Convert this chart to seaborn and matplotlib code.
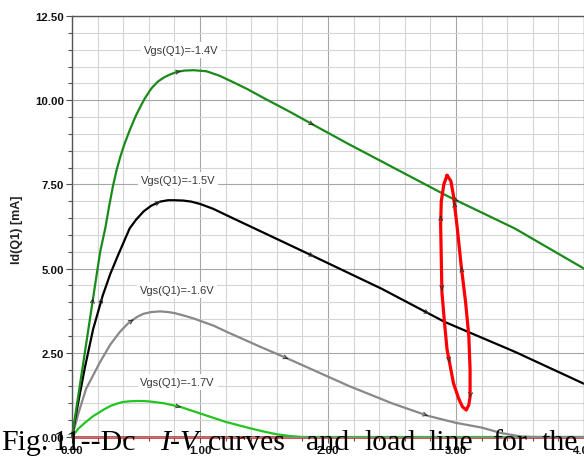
import numpy as np
import matplotlib
matplotlib.use("Agg")
import matplotlib.pyplot as plt
from matplotlib.ticker import MultipleLocator
import seaborn as sns

# Drain voltage (V) and drain current (mA) for each gate bias
v_14 = [0, 0.05, 0.10, 0.15, 0.20, 0.22, 0.26, 0.29, 0.32, 0.35, 0.38, 0.41, 0.45,
        0.50, 0.54, 0.57, 0.62, 0.67, 0.72, 0.77, 0.82, 0.88, 0.95, 1.05, 1.15, 1.24,
        1.37, 1.50, 1.70, 1.89, 2.15, 2.42, 2.94, 3.46, 4.00]
i_14 = [0, 1.25, 2.50, 3.75, 5.00, 5.50, 6.20, 6.85, 7.45, 7.95, 8.35, 8.70, 9.10,
        9.55, 9.85, 10.06, 10.35, 10.55, 10.68, 10.77, 10.84, 10.88, 10.89, 10.86,
        10.73, 10.57, 10.33, 10.06, 9.66, 9.26, 8.72, 8.18, 7.14, 6.19, 5.00]

v_15 = [0, 0.05, 0.10, 0.165, 0.24, 0.30, 0.36, 0.45, 0.50, 0.56, 0.62, 0.69, 0.75,
        0.80, 0.87, 0.93, 1.00, 1.10, 1.26, 1.45, 1.89, 2.42, 2.91, 3.46, 4.00]
i_15 = [0, 1.05, 2.05, 3.20, 4.20, 4.85, 5.40, 6.19, 6.45, 6.70, 6.87, 6.99, 7.03,
        7.03, 7.02, 6.99, 6.92, 6.78, 6.49, 6.15, 5.36, 4.40, 3.42, 2.53, 1.58]

v_16 = [0, 0.05, 0.11, 0.22, 0.30, 0.376, 0.44, 0.51, 0.56, 0.62, 0.69, 0.75, 0.80,
        0.87, 0.95, 1.11, 1.21, 1.47, 1.69, 2.16, 2.50, 2.78, 3.00, 3.20, 3.35, 3.50,
        3.60, 4.00]
i_16 = [0, 0.70, 1.43, 2.23, 2.75, 3.13, 3.38, 3.57, 3.66, 3.71, 3.73, 3.71, 3.68,
        3.61, 3.52, 3.30, 3.12, 2.68, 2.32, 1.52, 1.00, 0.63, 0.42, 0.28, 0.12, 0.02,
        0.0, 0.0]

v_17 = [0, 0.05, 0.10, 0.165, 0.20, 0.25, 0.30, 0.35, 0.40, 0.45, 0.51, 0.57, 0.62,
        0.72, 0.85, 1.00, 1.08, 1.20, 1.37, 1.50, 1.60, 1.70, 1.80, 4.00]
i_17 = [0, 0.25, 0.42, 0.62, 0.70, 0.82, 0.92, 0.99, 1.04, 1.06, 1.07, 1.065, 1.05,
        1.00, 0.89, 0.70, 0.60, 0.45, 0.28, 0.16, 0.08, 0.03, 0.0, 0.0]

# Zero-current trace
v_off = [0, 4.00]
i_off = [0, 0]

# Dynamic load line (closed loop)
loop_v = [2.93, 2.905, 2.885, 2.88, 2.885, 2.89, 2.91, 2.93, 2.95, 2.98, 3.02, 3.05,
          3.08, 3.10, 3.11, 3.11, 3.10, 3.075, 3.04, 3.01, 2.98, 2.96, 2.93]
loop_i = [7.77, 7.50, 7.00, 6.30, 5.30, 4.30, 3.40, 2.60, 2.20, 1.60, 1.15, 0.90,
          0.80, 0.95, 1.20, 2.00, 3.00, 4.00, 5.10, 6.20, 7.17, 7.60, 7.77]

curve_labels = ["Vgs(Q1)=-1.4V", "Vgs(Q1)=-1.5V", "Vgs(Q1)=-1.6V", "Vgs(Q1)=-1.7V"]
label_v = [0.85, 0.83, 0.82, 0.825]
label_i = [11.49, 7.63, 4.37, 1.63]

x_ticks = [0, 1, 2, 3, 4]
x_tick_labels = ["0.00", "1.00", "2.00", "3.00", "4.00"]
y_ticks = [0, 2.5, 5, 7.5, 10, 12.5]
y_tick_labels = ["0.00", "2.50", "5.00", "7.50", "10.00", "12.50"]

caption_words = ["Fig.", "11--Dc", "I-V", "curves", "and", "load", "line", "for", "the"]
caption_x = [1, 52, 160, 208, 306, 364, 428, 492, 542]

sns.set_theme(style="white")
plt.rcParams['font.family'] = ['Liberation Sans', 'DejaVu Sans']

W, H = 584, 460
fig = plt.figure(figsize=(W / 100, H / 100), dpi=100)
ax = fig.add_axes([72 / W, 1 - 438 / H, 512 / W, 421 / H])
ax.set_xlim(0, 4)
ax.set_ylim(0, 12.5)

# grid
ax.xaxis.set_minor_locator(MultipleLocator(0.2))
ax.yaxis.set_minor_locator(MultipleLocator(0.5))
ax.set_axisbelow(True)
ax.grid(which='minor', color='#d5d5d5', lw=0.8)
ax.grid(which='major', color='#a6a6a6', lw=0.8)

dark_green = '#1a8a1a'
light_green = '#22c422'
traces = [
    (v_off, i_off, '#ff0000', 1.8),
    (v_17, i_17, light_green, 1.6),
    (v_16, i_16, '#888888', 1.6),
    (v_15, i_15, '#000000', 1.6),
    (v_14, i_14, dark_green, 1.6),
]
for xs, ys, col, lw in traces:
    sns.lineplot(x=xs, y=ys, color=col, lw=lw, ax=ax, sort=False,
                 estimator=None, clip_on=False)
sns.lineplot(x=loop_v, y=loop_i, color='#ff0000', lw=2.3, ax=ax, sort=False,
             estimator=None)

arrow_style = dict(arrowstyle='->', color='#303030', lw=0.7, mutation_scale=7,
                   shrinkA=0, shrinkB=0)


def curve_arrow(xs, ys, at_v, dv=0.006):
    tip = (at_v, np.interp(at_v, xs, ys))
    tail = (at_v - dv, np.interp(at_v - dv, xs, ys))
    ax.annotate('', xy=tip, xytext=tail, arrowprops=arrow_style, zorder=6)


def loop_arrow(k, f, reverse=False):
    p0 = np.array([loop_v[k], loop_i[k]])
    p1 = np.array([loop_v[k + 1], loop_i[k + 1]])
    d = p1 - p0
    tip = p0 + f * d
    tail = tip - 0.06 * d if not reverse else tip + 0.06 * d
    ax.annotate('', xy=tuple(tip), xytext=tuple(tail), arrowprops=arrow_style, zorder=6)


for at in [0.165, 0.85, 1.89, 3.02]:
    curve_arrow(v_14, i_14, at)
for at in [0.235, 0.69, 1.89, 2.79]:
    curve_arrow(v_15, i_15, at)
for at in [0.48, 1.69, 2.78]:
    curve_arrow(v_16, i_16, at)
curve_arrow(v_17, i_17, 0.85)

loop_arrow(2, 0.6, reverse=True)
loop_arrow(4, 0.95)
loop_arrow(7, 0.95)
loop_arrow(13, 0.9, reverse=True)
loop_arrow(17, 0.95)
loop_arrow(19, 0.8)

for txt, lv, li in zip(curve_labels, label_v, label_i):
    ax.text(lv, li, txt, ha='center', va='center', fontsize=8, color='#383838',
            bbox=dict(boxstyle='square,pad=0.25', fc='white', ec='none'), zorder=7)

# axes frame and ticks
ax.set_xticks(x_ticks, labels=x_tick_labels, fontweight='bold', fontsize=8.2)
ax.set_yticks(y_ticks, labels=y_tick_labels, fontweight='bold', fontsize=8.2)
ax.tick_params(axis='both', which='major', direction='out', length=4.5, width=0.8,
               color='#505050', pad=1.2, labelcolor='#111111',
               bottom=True, left=True)
ax.tick_params(axis='both', which='minor', direction='out', length=3, width=0.8,
               color='#505050', bottom=True, left=True)
ax.set_xlabel('')
ax.set_ylabel('')
for side, col in [('left', '#555555'), ('top', '#555555'),
                  ('right', '#8a8a8a'), ('bottom', '#8a8a8a')]:
    ax.spines[side].set_visible(True)
    ax.spines[side].set_color(col)
    ax.spines[side].set_linewidth(1.0)

fig.text(17 / W, 1 - 230 / H, "Id(Q1) [mA]", rotation=90, ha='center', va='center',
         fontsize=9, fontweight='bold', color='#222222')

# caption line running across the bottom of the figure
for word, x0 in zip(caption_words, caption_x):
    style = 'italic' if word == "I-V" else 'normal'
    fig.text(x0 / W, 1 - 450 / H, word, ha='left', va='baseline', fontsize=21.5,
             family='Liberation Serif', style=style, color='black', zorder=10)

fig.savefig('out.png', dpi=100)
